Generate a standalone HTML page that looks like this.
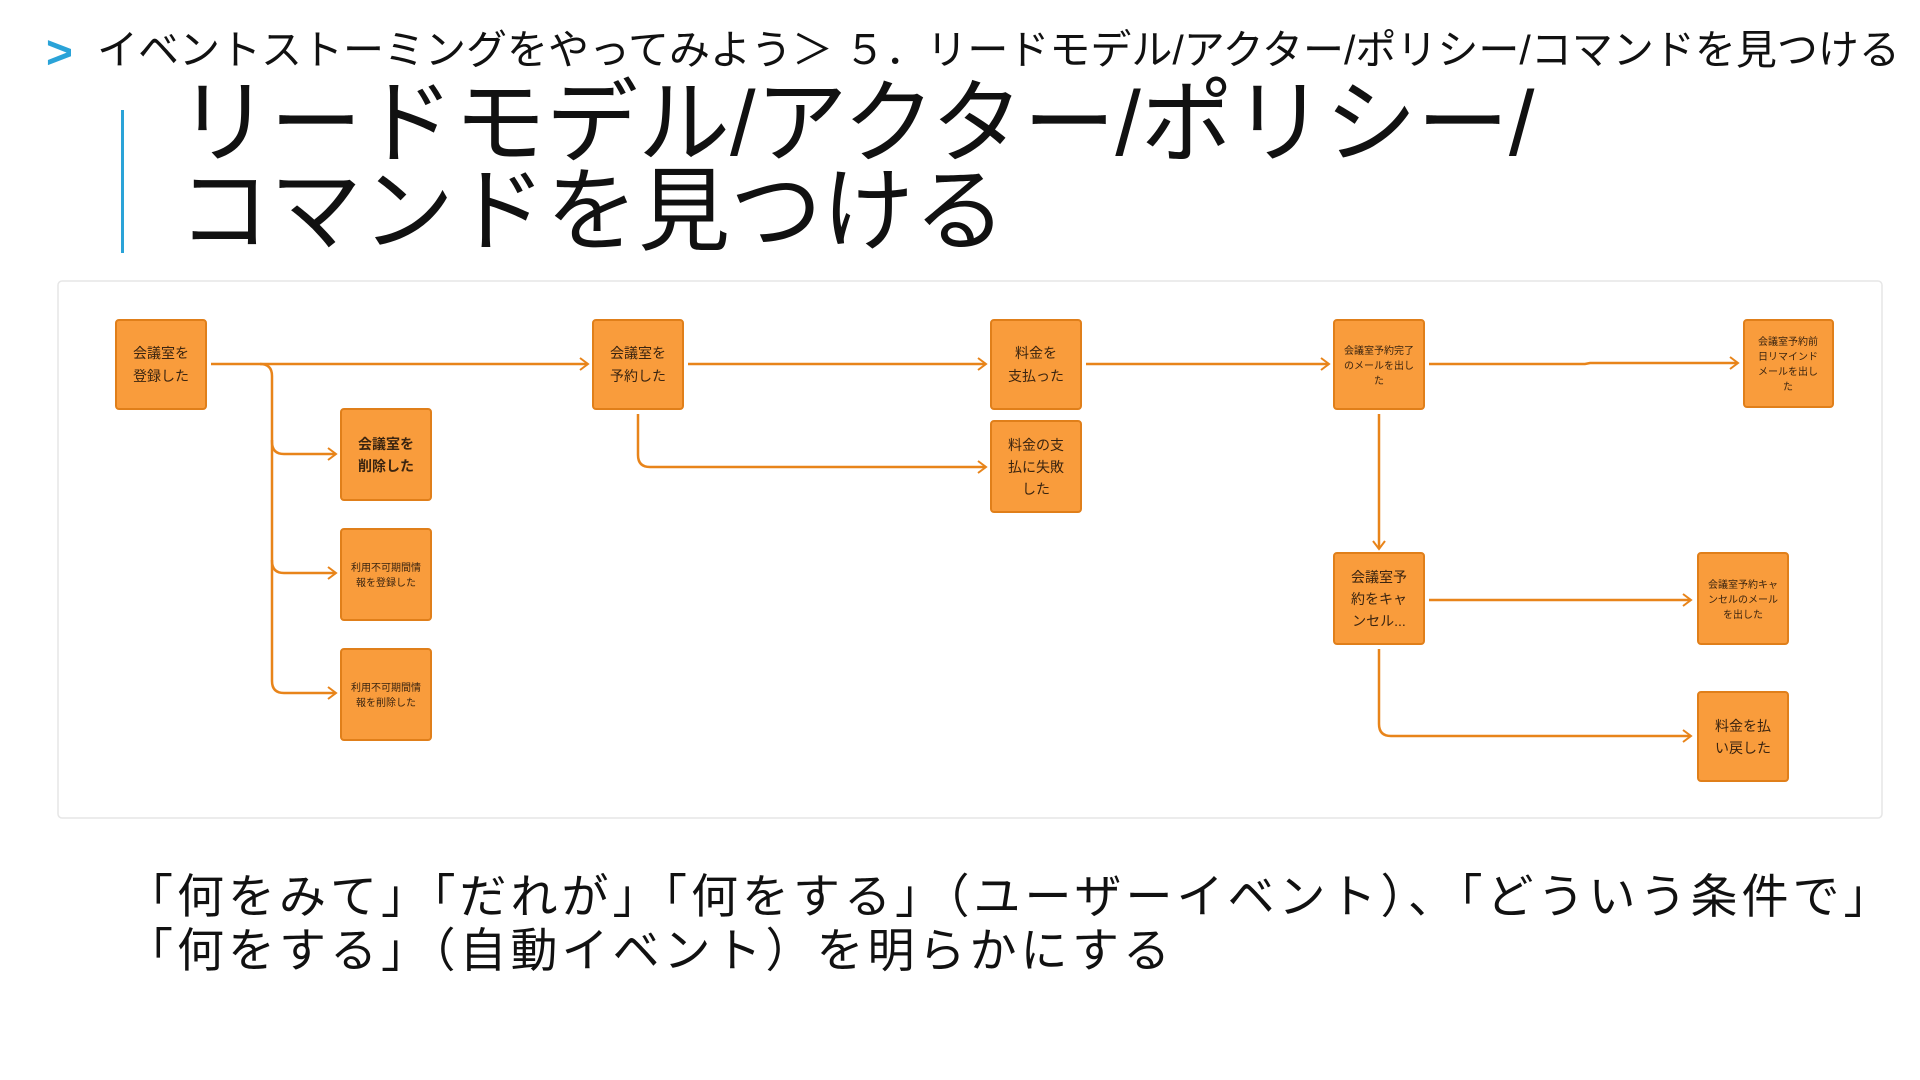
<!DOCTYPE html>
<html><head><meta charset="utf-8"><style>
body{margin:0;width:1920px;height:1080px;background:#fff;position:relative;overflow:hidden;font-family:"Liberation Sans","Noto Sans CJK JP",sans-serif;color:#111}
.chev{position:absolute;left:46px;top:28px;font-size:46px;line-height:48px;color:#2aa3d8;font-weight:bold}
.bc{position:absolute;left:97px;top:24px;font-size:41px;white-space:nowrap;line-height:52px}
.bar{position:absolute;left:121px;top:110px;width:3px;height:143px;background:#2aa3d8}
.title{position:absolute;left:178px;top:80px;font-size:92px;line-height:88px;white-space:nowrap}
.bottom{position:absolute;left:126px;top:870px;font-size:47px;line-height:54px;white-space:nowrap;letter-spacing:4px}
svg{position:absolute;left:0;top:0}
</style></head><body>
<div class="chev">&gt;</div>
<div class="bc">イベントストーミングをやってみよう＞ ５．リードモデル/アクター/ポリシー/コマンドを見つける</div>
<div class="bar"></div>
<div class="title">リードモデル/アクター/ポリシー/<br>コマンドを見つける</div>
<svg width="1920" height="1080" viewBox="0 0 1920 1080">
<defs><marker id="a" markerWidth="12" markerHeight="14" refX="10" refY="7" orient="auto" markerUnits="userSpaceOnUse"><path d="M2,1 L10,7 L2,13" fill="none" stroke="#e8841a" stroke-width="2"/></marker></defs>
<rect x="58" y="281" width="1824" height="537" rx="4" fill="#fff" stroke="#e6e6e6" stroke-width="1.5"/>
<g fill="none" stroke="#e8841a" stroke-width="2.5" marker-end="url(#a)">
<path d="M211,364 H588"/>
<path d="M260,364 Q272,364 272,376 V442 Q272,454 284,454 H336"/>
<path d="M272,440 V561 Q272,573 284,573 H336"/>
<path d="M272,560 V681 Q272,693 284,693 H336"/>
<path d="M688,364 H986"/>
<path d="M638,414 V455 Q638,467 650,467 H986"/>
<path d="M1086,364 H1329"/>
<path d="M1429,364 H1585 L1590,363 H1738"/>
<path d="M1379,414 V549"/>
<path d="M1429,600 H1691"/>
<path d="M1379,649 V724 Q1379,736 1391,736 H1691"/>
</g>
<g fill="#f99c3c" stroke="#e07f1a" stroke-width="2">
<rect x="116" y="320" width="90" height="89" rx="3"/>
<rect x="341" y="409" width="90" height="91" rx="3"/>
<rect x="341" y="529" width="90" height="91" rx="3"/>
<rect x="341" y="649" width="90" height="91" rx="3"/>
<rect x="593" y="320" width="90" height="89" rx="3"/>
<rect x="991" y="320" width="90" height="89" rx="3"/>
<rect x="991" y="421" width="90" height="91" rx="3"/>
<rect x="1334" y="320" width="90" height="89" rx="3"/>
<rect x="1744" y="320" width="89" height="87" rx="3"/>
<rect x="1334" y="553" width="90" height="91" rx="3"/>
<rect x="1698" y="553" width="90" height="91" rx="3"/>
<rect x="1698" y="692" width="90" height="89" rx="3"/>
</g>
<g fill="#3a2410" text-anchor="middle" font-family="Liberation Sans,Noto Sans CJK JP,sans-serif">
<g font-size="14"><text x="161" y="358">会議室を</text><text x="161" y="381">登録した</text>
<text x="386" y="449" font-weight="bold">会議室を</text><text x="386" y="471" font-weight="bold">削除した</text>
<text x="638" y="358">会議室を</text><text x="638" y="381">予約した</text>
<text x="1036" y="358">料金を</text><text x="1036" y="381">支払った</text>
<text x="1036" y="450">料金の支</text><text x="1036" y="472">払に失敗</text><text x="1036" y="494">した</text>
<text x="1379" y="582">会議室予</text><text x="1379" y="604">約をキャ</text><text x="1379" y="626">ンセル...</text>
<text x="1743" y="731">料金を払</text><text x="1743" y="753">い戻した</text></g>
<g font-size="10"><text x="386" y="571">利用不可期間情</text><text x="386" y="586">報を登録した</text>
<text x="386" y="691">利用不可期間情</text><text x="386" y="706">報を削除した</text>
<text x="1379" y="354">会議室予約完了</text><text x="1379" y="369">のメールを出し</text><text x="1379" y="384">た</text>
<text x="1788" y="345">会議室予約前</text><text x="1788" y="360">日リマインド</text><text x="1788" y="375">メールを出し</text><text x="1788" y="390">た</text>
<text x="1743" y="588">会議室予約キャ</text><text x="1743" y="603">ンセルのメール</text><text x="1743" y="618">を出した</text></g>
</g>
</svg>
<div class="bottom">「何をみて」「だれが」「何をする」（ユーザーイベント）、「どういう条件で」<br>「何をする」（自動イベント）を明らかにする</div>
</body></html>
